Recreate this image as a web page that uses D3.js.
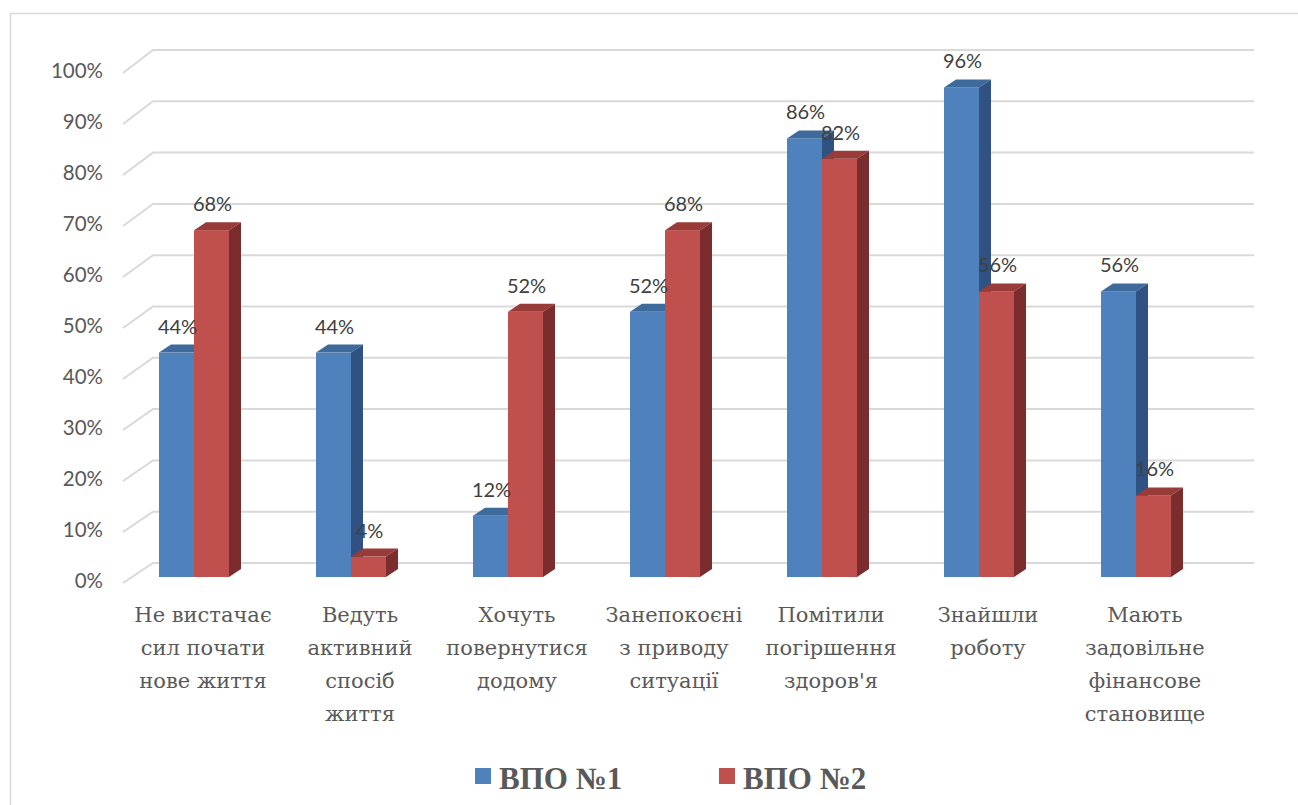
<!DOCTYPE html>
<html><head><meta charset="utf-8">
<script src="https://cdn.jsdelivr.net/npm/d3@7"></script>
<style>html,body{margin:0;padding:0;background:#fff;}svg{display:block;}</style>
</head><body>
<svg id="chart" width="1298" height="805"></svg>
<script>
const categories = [
  ["Не вистачає","сил почати","нове життя"],
  ["Ведуть","активний","спосіб","життя"],
  ["Хочуть","повернутися","додому"],
  ["Занепокоєні","з приводу","ситуації"],
  ["Помітили","погіршення","здоров'я"],
  ["Знайшли","роботу"],
  ["Мають","задовільне","фінансове","становище"]
];
const seriesNames = ["ВПО №1","ВПО №2"];
const series1 = [44,44,12,52,86,96,56];
const series2 = [68,4,52,68,82,56,16];
const tickValues = [0,10,20,30,40,50,60,70,80,90,100];

const colors = [
  {front:"#4F81BD", top:"#3F6A9C", side:"#2F5282"},
  {front:"#C0504D", top:"#993B39", side:"#7A2D2C"}
];

const svg = d3.select("#chart");
svg.append("rect").attr("x",10.5).attr("y",13.5).attr("width",1400).attr("height",900)
  .attr("fill","none").attr("stroke","#d9d9d9").attr("stroke-width",1.5);

const keys = categories.map((c,i)=>"c"+i);
const x0 = d3.scaleBand().domain(keys).range([115.5,1214.5]).paddingInner(0.554).paddingOuter(0.277);
const x1 = d3.scaleBand().domain(seriesNames).range([0, x0.bandwidth()]);
const yBar = d3.scaleLinear().domain([0,100]).range([577,67]);
const yBack = d3.scaleLinear().domain([0,100]).range([563,50]);
const yFront = d3.scaleLinear().domain([0,100]).range([583,73]);
const depthX = 12, depthY = -8;

// gridlines
const g = svg.append("g");
tickValues.forEach(t=>{
  g.append("path").attr("d",`M123,${yFront(t)}L153,${yBack(t)}L1254,${yBack(t)}`)
   .attr("fill","none").attr("stroke","#d9d9d9").attr("stroke-width",2);
});
// tick labels
svg.append("g").selectAll("text").data(tickValues).join("text")
  .attr("x",103).attr("y",d=>yFront(d)).attr("text-anchor","end").attr("dominant-baseline","middle")
  .attr("font-family","Lato, 'Open Sans', sans-serif").attr("font-size",20.5).attr("fill","#595959")
  .text(d=>d+"%");

// bars
const data = [series1, series2];
const bars = svg.append("g");
const labelData = [];
keys.forEach((k,i)=>{
  seriesNames.forEach((s,si)=>{
    const v = data[si][i];
    const x = x0(k)+x1(s), w = x1.bandwidth();
    const yt = yBar(v), yb = yBar(0);
    const c = colors[si];
    bars.append("rect").attr("x",x).attr("y",yt).attr("width",w).attr("height",yb-yt).attr("fill",c.front);
    bars.append("path").attr("d",`M${x},${yt}L${x+depthX},${yt+depthY}L${x+w+depthX},${yt+depthY}L${x+w},${yt}Z`).attr("fill",c.top);
    bars.append("path").attr("d",`M${x+w},${yt}L${x+w+depthX},${yt+depthY}L${x+w+depthX},${yb+depthY}L${x+w},${yb}Z`).attr("fill",c.side);
    labelData.push({x:x+w/2+1, y:yt-19, v});
  });
});
svg.append("g").selectAll("text").data(labelData).join("text")
  .attr("x",d=>d.x).attr("y",d=>d.y).attr("text-anchor","middle")
  .attr("font-family","Lato, 'Open Sans', sans-serif").attr("font-size",20).attr("fill","#404040")
  .text(d=>d.v+"%");

// category labels
const cl = svg.append("g").style("font-family","'DejaVu Serif', serif")
  .attr("font-size",21).attr("fill","#595959").attr("text-anchor","middle");
categories.forEach((lines,i)=>{
  const cx = x0(keys[i]) + x0.bandwidth()/2 + 9;
  const t = cl.append("text").attr("x",cx).attr("y",622);
  lines.forEach((ln,j)=>{
    t.append("tspan").attr("x",cx).attr("y",622+33*j).text(ln);
  });
});

// legend
const leg = svg.append("g");
const legX = [475, 719];
seriesNames.forEach((s,si)=>{
  leg.append("rect").attr("x",legX[si]).attr("y",768).attr("width",16).attr("height",16).attr("fill",colors[si].front);
  leg.append("text").attr("x",legX[si]+24).attr("y",789)
    .style("font-family","'Liberation Serif', 'DejaVu Serif', serif").attr("font-weight","bold")
    .attr("font-size",31).attr("fill","#595959").text(s);
});
</script>
</body></html>
